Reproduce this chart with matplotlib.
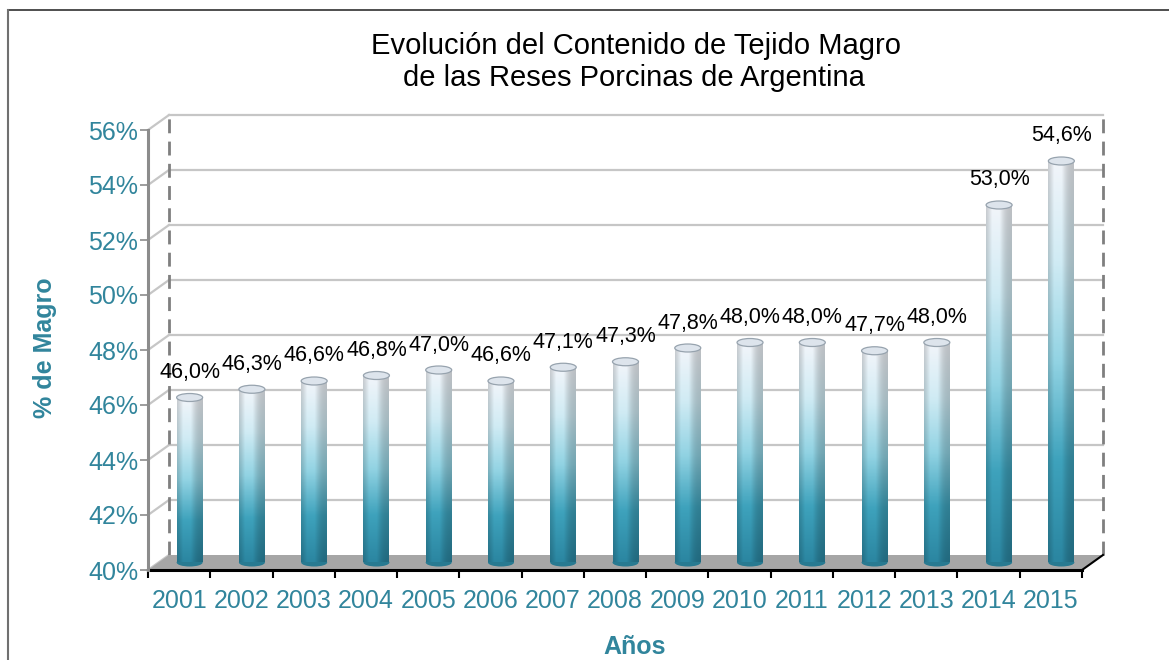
import numpy as np
import matplotlib
matplotlib.use("Agg")
import matplotlib.pyplot as plt
from matplotlib.patches import Ellipse, Polygon
from matplotlib.colors import LinearSegmentedColormap
from matplotlib.lines import Line2D

plt.rcParams['font.family'] = ['Liberation Sans', 'DejaVu Sans']

# data
years = ['2001', '2002', '2003', '2004', '2005', '2006', '2007', '2008',
         '2009', '2010', '2011', '2012', '2013', '2014', '2015']
magro = [46.0, 46.3, 46.6, 46.8, 47.0, 46.6, 47.1, 47.3,
         47.8, 48.0, 48.0, 47.7, 48.0, 53.0, 54.6]
yticks = [40, 42, 44, 46, 48, 50, 52, 54, 56]

TEAL = '#31859c'
W, H = 1169, 660
fig = plt.figure(figsize=(W / 100, H / 100), dpi=100)
fig.patch.set_facecolor('white')

# front plane of the 3D box, in pixels
left, right, bottom, top = 148, 1082, 570, 130
ax = fig.add_axes([left / W, 1 - bottom / H, (right - left) / W, (bottom - top) / H])
ax.set_xlim(0, len(years))
ax.set_ylim(40, 56)
ax.set_autoscale_on(False)
ax.patch.set_alpha(0)
for s in ax.spines.values():
    s.set_visible(False)

# depth of the box (21 px right, 15 px up) in data units
px_x = (right - left) / len(years)
px_y = (bottom - top) / 16
DX, DY = 21 / px_x, 15 / px_y
n = len(years)

# floor
ax.add_patch(Polygon([(0, 40), (n, 40), (n + DX, 40 + DY), (DX, 40 + DY)],
                     closed=True, facecolor='#a6a6a6', edgecolor='none',
                     zorder=1, clip_on=False))
ax.plot([0, n], [40, 40], color='black', lw=2.2, zorder=5, clip_on=False)
ax.plot([n, n + DX], [40, 40 + DY], color='black', lw=1.5, zorder=5, clip_on=False)

# back wall gridlines and side diagonals
for y in yticks:
    if y > 40:
        ax.plot([DX, n + DX], [y + DY, y + DY], color='#c6c6c6', lw=1.6,
                zorder=0.5, clip_on=False)
    ax.plot([0, DX], [y, y + DY], color='#c6c6c6', lw=1.6, zorder=0.6, clip_on=False)
for xe in (DX, n + DX):
    ax.plot([xe, xe], [40 + DY, 56 + DY], color='#7f7f7f', lw=2,
            dashes=(5, 3), zorder=0.7, clip_on=False)

# front value axis
ax.plot([0, 0], [40, 56], color='#8c8c8c', lw=2.2, zorder=5, clip_on=False)

# ticks
ax.set_yticks(yticks)
ax.set_yticklabels([f'{v}%' for v in yticks])
ax.tick_params(axis='y', colors='#8c8c8c', length=6, width=1.2, pad=1,
               labelsize=18, labelcolor=TEAL)
ax.set_xticks(range(n + 1))
ax.set_xticklabels([])
ax.set_xticks([i + 0.5 for i in range(n)], minor=True)
ax.set_xticklabels(years, minor=True)
ax.tick_params(axis='x', which='major', colors='black', length=6, width=1.5)
ax.tick_params(axis='x', which='minor', length=0, pad=14, labelsize=18,
               labelcolor=TEAL)

# cylinder shading
cmap = LinearSegmentedColormap.from_list('cyl', [
    (0.0, '#2b86a1'), (0.25, '#3ea2bc'), (0.5, '#92d3e3'),
    (0.75, '#d0ebf4'), (1.0, '#f2f5fa')])
bw = 26 / px_x
ell_h = 8 / px_y
hx = np.linspace(0, 1, 40)
shade = 0.78 + 0.28 * np.exp(-((hx - 0.38) / 0.3) ** 2)
shade = np.clip(shade, 0, 1.0)
for i, v in enumerate(magro):
    xc = i + 0.5 + DX / 2
    y0 = 40 + DY / 2
    y1 = v + DY / 2
    t = np.linspace(0, 1, 200)[:, None]
    img = cmap(np.repeat(t, len(hx), axis=1))[:, :, :3] * shade[None, :, None]
    ax.add_patch(Ellipse((xc, y0), bw, ell_h, facecolor='#287a91',
                         edgecolor='none', zorder=2.9, clip_on=False))
    ax.imshow(img, extent=(xc - bw / 2, xc + bw / 2, y0, y1), origin='lower',
              aspect='auto', interpolation='bilinear', zorder=3)
    ax.add_patch(Ellipse((xc, y1), bw, ell_h, facecolor='#dde4ec',
                         edgecolor='#97a3ae', lw=0.9, zorder=4, clip_on=False))
    ax.annotate(f'{v:.1f}%'.replace('.', ','), (xc, y1), xytext=(0, 18),
                textcoords='offset points', ha='center', va='center',
                fontsize=15.5, color='black', zorder=6)

ax.set_xlim(0, n)
ax.set_ylim(40, 56)

# titles and axis labels
fig.text(636 / W, 1 - 46 / H, 'Evolución del Contenido de Tejido Magro',
         ha='center', va='center', fontsize=21)
fig.text(634 / W, 1 - 78 / H, 'de las Reses Porcinas de Argentina',
         ha='center', va='center', fontsize=21)
fig.text(45 / W, 1 - 348 / H, '% de Magro', rotation=90, ha='center',
         va='center', fontsize=18, fontweight='bold', color=TEAL)
fig.text(635 / W, 1 - 647 / H, 'Años', ha='center', va='center',
         fontsize=18, fontweight='bold', color=TEAL)

# outer frame
fig.add_artist(Line2D([8 / W, 1], [1 - 10 / H, 1 - 10 / H], color='#303030',
                      lw=1.2, transform=fig.transFigure))
fig.add_artist(Line2D([8 / W, 8 / W], [0, 1 - 10 / H], color='#707070',
                      lw=1.5, transform=fig.transFigure))

fig.savefig('out.png', dpi=100)
